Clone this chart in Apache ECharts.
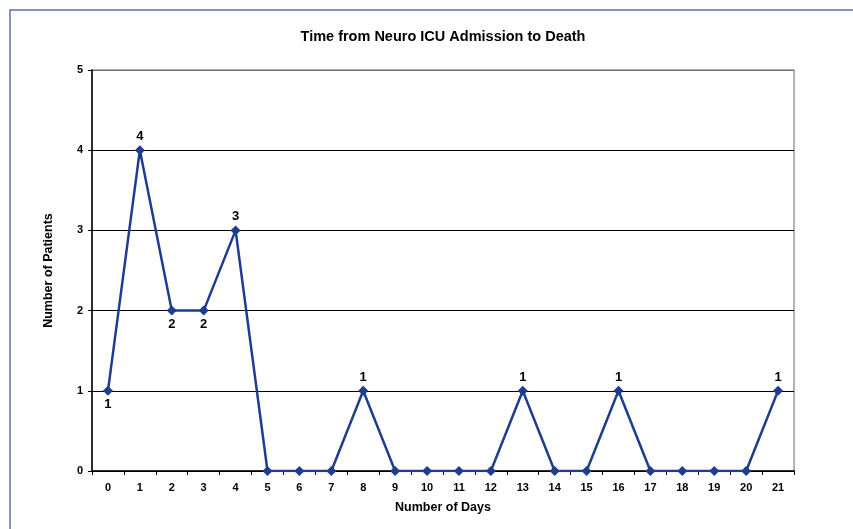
<!DOCTYPE html>
<html>
<head>
<meta charset="utf-8">
<script src="https://cdn.jsdelivr.net/npm/echarts@6/dist/echarts.min.js"></script>
<style>
  html, body { margin: 0; padding: 0; background: #fff; }
  #main { width: 853px; height: 529px; }
</style>
</head>
<body>
<div id="main"></div>
<script>
// days since admission and number of patients who died that day
const days = ['0', '1', '2', '3', '4', '5', '6', '7', '8', '9', '10', '11', '12', '13', '14', '15', '16', '17', '18', '19', '20', '21']
const patients = [1, 4, 2, 2, 3, 0, 0, 0, 1, 0, 0, 0, 0, 1, 0, 0, 1, 0, 0, 0, 0, 1]
// points whose label sits under the marker
const labelsBelow = [0, 2, 3]

const chart = echarts.init(document.getElementById('main'))

const seriesData = patients.map(function (v, i) {
  return {
    value: v,
    label: {
      show: v > 0,
      position: labelsBelow.indexOf(i) >= 0 ? 'bottom' : 'top'
    }
  }
})

const option = {
  animation: false,
  backgroundColor: '#fff',
  textStyle: { fontFamily: 'Arial, "Liberation Sans", sans-serif' },
  graphic: [{
    type: 'rect',
    shape: { x: 10, y: 10, width: 880, height: 560 },
    style: { fill: 'none', stroke: '#5a72b5', lineWidth: 1.5 },
    silent: true
  }],
  title: {
    text: 'Time from Neuro ICU Admission to Death',
    left: 438,
    textAlign: 'center',
    top: 24,
    textStyle: { fontSize: 14.5, fontWeight: 'bold', color: '#000' }
  },
  grid: {
    left: 92,
    top: 70,
    right: 59,
    bottom: 58,
    show: true,
    borderColor: '#9a9a9a',
    borderWidth: 1.5
  },
  xAxis: {
    type: 'category',
    data: days,
    boundaryGap: true,
    name: 'Number of Days',
    nameLocation: 'middle',
    nameGap: 30,
    nameTextStyle: { fontSize: 12.5, fontWeight: 'bold', color: '#000' },
    axisLine: { lineStyle: { color: '#000', width: 1.5 } },
    axisTick: { show: true, inside: false, length: 4, lineStyle: { color: '#000' } },
    axisLabel: { fontSize: 11, fontWeight: 'bold', color: '#000', margin: 11 },
    splitLine: { show: false }
  },
  yAxis: {
    type: 'value',
    min: 0,
    max: 5,
    interval: 1,
    name: 'Number of Patients',
    nameLocation: 'middle',
    nameGap: 37,
    nameTextStyle: { fontSize: 12.5, fontWeight: 'bold', color: '#000' },
    axisLine: { show: true, lineStyle: { color: '#000', width: 1.5 } },
    axisTick: { show: true, length: 4, lineStyle: { color: '#000' } },
    axisLabel: { fontSize: 11, fontWeight: 'bold', color: '#000', margin: 9 },
    splitLine: {
      show: true,
      lineStyle: { color: ['#000', '#000', '#000', '#000', '#000', '#707070'], width: 1.2 }
    }
  },
  series: [{
    type: 'line',
    data: seriesData,
    symbol: 'diamond',
    symbolSize: 10,
    lineStyle: { color: '#1f3d8f', width: 2.5 },
    itemStyle: { color: '#1f3d8f' },
    label: { fontSize: 13, fontWeight: 'bold', color: '#000', distance: 2 }
  }]
}

chart.setOption(option)
</script>
</body>
</html>
